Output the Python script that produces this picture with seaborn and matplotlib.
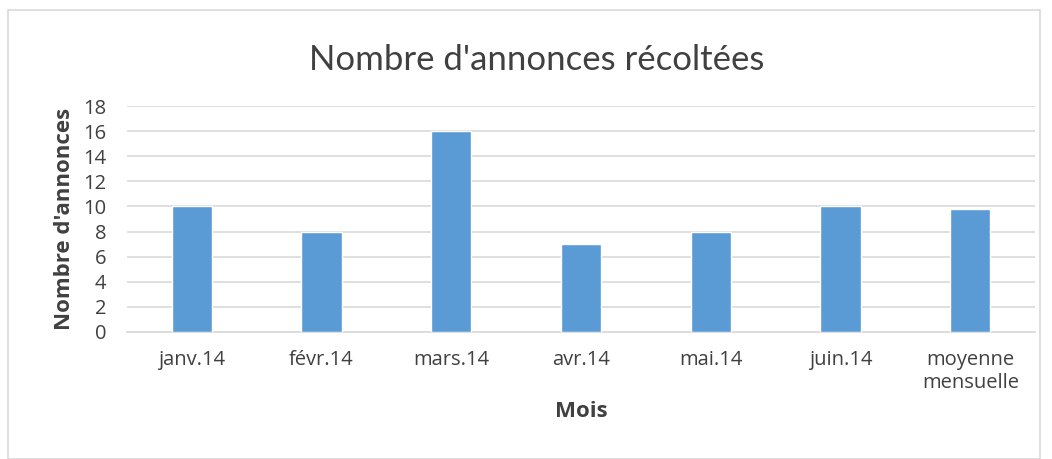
import pandas as pd
import matplotlib.pyplot as plt
import seaborn as sns
from matplotlib.patches import Rectangle

# data
mois = ['janv.14', 'févr.14', 'mars.14', 'avr.14', 'mai.14', 'juin.14', 'moyenne\nmensuelle']
annonces = [10, 8, 16, 7, 8, 10, 9.83]

data_frame = pd.DataFrame({'Mois': mois, 'Annonces': annonces})

sns.set_style(style="white")
plt.rcParams['font.family'] = ['Open Sans', 'DejaVu Sans']

text_color = '#404040'
grid_color = '#D9D9D9'

fig = plt.figure(figsize=(10.52, 4.59), dpi=100)
ax = fig.add_axes([0.1207, 0.2767, 0.8633, 0.4923])

sns.barplot(x='Mois', y='Annonces', data=data_frame, color='#5B9BD5',
            width=0.31, saturation=1, ax=ax, zorder=3)

ax.set_ylim(0, 18)
ax.set_yticks(range(0, 19, 2))
ax.set_xlim(-0.5, len(mois) - 0.5)
ax.yaxis.grid(True, color=grid_color, linewidth=1.2, zorder=0)
ax.set_axisbelow(True)

for side in ['top', 'right', 'left']:
    ax.spines[side].set_visible(False)
ax.spines['bottom'].set_color(grid_color)
ax.spines['bottom'].set_linewidth(1.2)

# tick marks between the categories
ax.set_xticks([i - 0.5 for i in range(len(mois) + 1)], minor=True)
ax.tick_params(axis='x', which='minor', length=7, color=grid_color, width=1.2)
ax.tick_params(axis='x', which='major', length=0, pad=13, labelsize=14.5, labelcolor=text_color)
ax.tick_params(axis='y', length=0, pad=15, labelsize=14.5, labelcolor=text_color)
for lab in ax.get_xticklabels():
    lab.set_linespacing(1.2)

ax.set_xlabel('Mois', fontsize=16, fontweight='bold', color=text_color, labelpad=6)
ax.set_ylabel("Nombre d'annonces", fontsize=16, fontweight='bold', color=text_color, labelpad=6)
fig.suptitle("Nombre d'annonces récoltées", fontsize=25, color=text_color, x=0.51, y=0.905,
             family=['Lato', 'DejaVu Sans'])

# light frame around the whole chart
fig.patches.append(Rectangle((0.008, 0.0), 0.981, 0.978, transform=fig.transFigure,
                             fill=False, edgecolor=grid_color, linewidth=1.2))

plt.savefig('out.png', dpi=100)
